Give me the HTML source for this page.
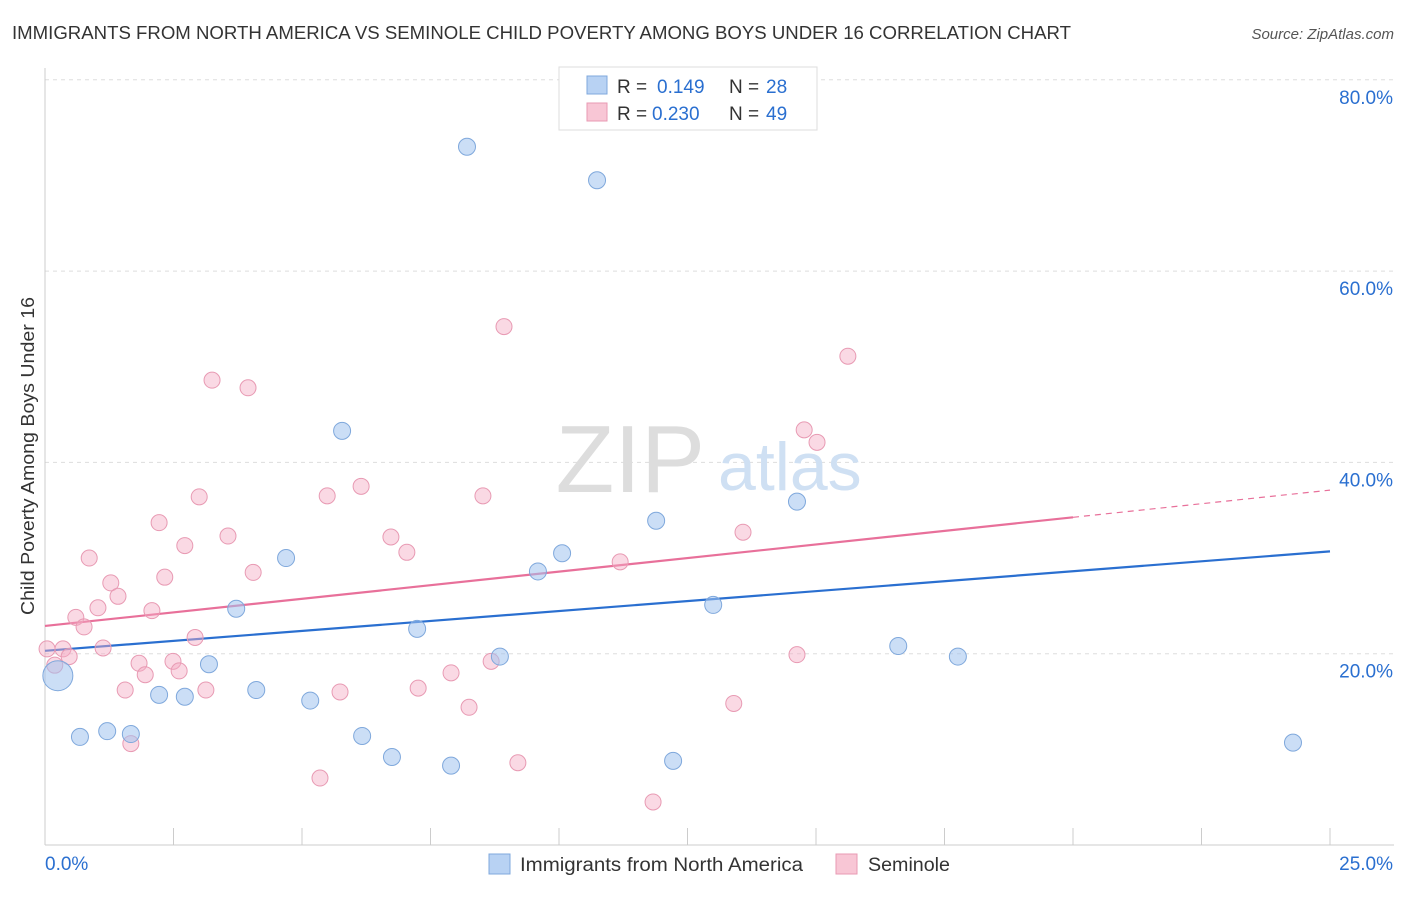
<!DOCTYPE html>
<html><head><meta charset="utf-8"><style>
body{margin:0;background:#fff;font-family:"Liberation Sans",sans-serif;}
svg text{font-family:"Liberation Sans",sans-serif;}
</style></head><body>
<svg id="chart" width="1406" height="892" xmlns="http://www.w3.org/2000/svg">
<text x="12" y="39" font-size="18" fill="#333" textLength="1059" lengthAdjust="spacingAndGlyphs">IMMIGRANTS FROM NORTH AMERICA VS SEMINOLE CHILD POVERTY AMONG BOYS UNDER 16 CORRELATION CHART</text>
<text x="1394" y="39" font-size="15" fill="#555" font-style="italic" text-anchor="end">Source: ZipAtlas.com</text>
<g id="grid"></g>
<g id="axes"></g>
<text x="705" y="492" font-size="96" fill="#ddd" text-anchor="end" font-family="Liberation Serif">ZIP</text>
<text x="718" y="490" font-size="68" fill="#cfe0f3">atlas</text>
<g id="lines"></g>
<g id="points"></g>
<text transform="translate(34,456) rotate(-90)" font-size="18" fill="#333" text-anchor="middle" textLength="318" lengthAdjust="spacingAndGlyphs">Child Poverty Among Boys Under 16</text>
<g>
<rect x="559" y="67" width="258" height="63" fill="#fff" stroke="#ddd"/>
<rect x="587" y="76" width="20" height="18" fill="#b8d2f3" stroke="#7fa8dc"/>
<text x="617" y="93" font-size="19" fill="#333">R = </text><text x="657" y="93" font-size="19" fill="#2a6fd0">0.149</text>
<text x="729" y="93" font-size="19" fill="#333">N = </text><text x="766" y="93" font-size="19" fill="#2a6fd0">28</text>
<rect x="587" y="103" width="20" height="18" fill="#f8c6d5" stroke="#e89ab3"/>
<text x="617" y="120" font-size="19" fill="#333">R = </text><text x="652" y="120" font-size="19" fill="#2a6fd0">0.230</text>
<text x="729" y="120" font-size="19" fill="#333">N = </text><text x="766" y="120" font-size="19" fill="#2a6fd0">49</text>
</g>
<g>
<rect x="489" y="854" width="21" height="20" fill="#b8d2f3" stroke="#7fa8dc"/>
<text x="520" y="871" font-size="19" fill="#333" textLength="283" lengthAdjust="spacingAndGlyphs">Immigrants from North America</text>
<rect x="836" y="854" width="21" height="20" fill="#f8c6d5" stroke="#e89ab3"/>
<text x="868" y="871" font-size="19" fill="#333" textLength="82" lengthAdjust="spacingAndGlyphs">Seminole</text>
</g>
</svg>
<script>
const yTicks=[20,40,60,80];
const yTickLabels=["20.0%","40.0%","60.0%","80.0%"];
const xTickCount=10;
const xLabels=["0.0%","25.0%"];
const blueX=[0.25,0.68,1.21,1.67,2.22,2.72,3.19,3.72,4.11,4.69,5.16,5.78,6.17,6.75,7.24,7.90,8.21,8.85,9.59,10.06,10.74,11.89,12.22,13.00,14.63,16.60,17.76,24.28];
const blueY=[17.7,11.3,11.9,11.6,15.7,15.5,18.9,24.7,16.2,30.0,15.1,43.3,11.4,9.2,22.6,8.3,73.0,19.7,28.6,30.5,69.5,33.9,8.8,25.1,35.9,20.8,19.7,10.7];
const pinkX=[0.04,0.19,0.35,0.47,0.60,0.76,0.86,1.03,1.13,1.28,1.42,1.56,1.67,1.83,1.95,2.08,2.22,2.33,2.49,2.61,2.72,2.92,3.00,3.13,3.25,3.56,3.95,4.05,5.35,5.49,5.74,6.15,6.73,7.04,7.26,7.90,8.25,8.52,8.68,8.93,9.20,11.19,11.83,13.40,13.58,14.63,14.77,15.02,15.62];
const pinkY=[20.5,18.8,20.5,19.7,23.8,22.8,30.0,24.8,20.6,27.4,26.0,16.2,10.6,19.0,17.8,24.5,33.7,28.0,19.2,18.2,31.3,21.7,36.4,16.2,48.6,32.3,47.8,28.5,7.0,36.5,16.0,37.5,32.2,30.6,16.4,18.0,14.4,36.5,19.2,54.2,8.6,29.6,4.5,14.8,32.7,19.9,43.4,42.1,51.1];
const blueTrend=[20.3,30.7];
const pinkTrend=[22.9,37.1];
const pinkSolidEnd=20;

const NS="http://www.w3.org/2000/svg";
const X=v=>45+v/25*1285;
const Y=v=>845-v*9.565;
function mk(tag,attrs,parent){const e=document.createElementNS(NS,tag);for(const k in attrs)e.setAttribute(k,attrs[k]);parent.appendChild(e);return e;}
const grid=document.getElementById('grid'),axes=document.getElementById('axes'),lines=document.getElementById('lines'),pts=document.getElementById('points');
yTicks.forEach((t,i)=>{
 const l=mk('line',{x1:45,x2:1394,y1:Y(t),y2:Y(t),stroke:'#ddd','stroke-dasharray':'4,4'},grid);
 
 
 const tx=mk('text',{x:1393,y:Y(t)+24,'font-size':19,fill:'#2a6fd0','text-anchor':'end'},axes);
 tx.textContent=yTickLabels[i];
 
 
});
const ax=mk('line',{x1:45,x2:1394,y1:845,y2:845,stroke:'#ccc'},axes);


const ay=mk('line',{x1:45,x2:45,y1:68,y2:845,stroke:'#ccc'},axes);


for(let i=0;i<=xTickCount;i++){const xv=X(25*i/xTickCount);
 const t=mk('line',{x1:xv,x2:xv,y1:828,y2:845,stroke:'#ccc'},axes);
 
 }
const xl0=mk('text',{x:45,y:870,'font-size':19,fill:'#2a6fd0'},axes);xl0.textContent=xLabels[0];


const xl1=mk('text',{x:1393,y:870,'font-size':19,fill:'#2a6fd0','text-anchor':'end'},axes);xl1.textContent=xLabels[1];



const bl=mk('line',{x1:X(0),y1:Y(blueTrend[0]),x2:X(25),y2:Y(blueTrend[1]),stroke:'#2a6fd0','stroke-width':2.2},lines);


const py=x=>pinkTrend[0]+(pinkTrend[1]-pinkTrend[0])*x/25;
const pl=mk('line',{x1:X(0),y1:Y(py(0)),x2:X(pinkSolidEnd),y2:Y(py(pinkSolidEnd)),stroke:'#e8709a','stroke-width':2.2},lines);


const pd=mk('line',{x1:X(pinkSolidEnd),y1:Y(py(pinkSolidEnd)),x2:X(25),y2:Y(py(25)),stroke:'#e8709a','stroke-width':1.2,'stroke-dasharray':'6,5'},lines);



pinkX.forEach((x,i)=>{
 const c=mk('circle',{cx:X(x),cy:Y(pinkY[i]),r:8,fill:'rgba(245,170,195,0.45)',stroke:'#e89ab3','stroke-width':1},pts);
 
 
});
blueX.forEach((x,i)=>{
 const c=mk('circle',{cx:X(x),cy:Y(blueY[i]),r:i===0?15:8.5,fill:'rgba(160,195,238,0.55)',stroke:'#7fa8dc','stroke-width':1},pts);
 
 
});
</script>
</body></html>
